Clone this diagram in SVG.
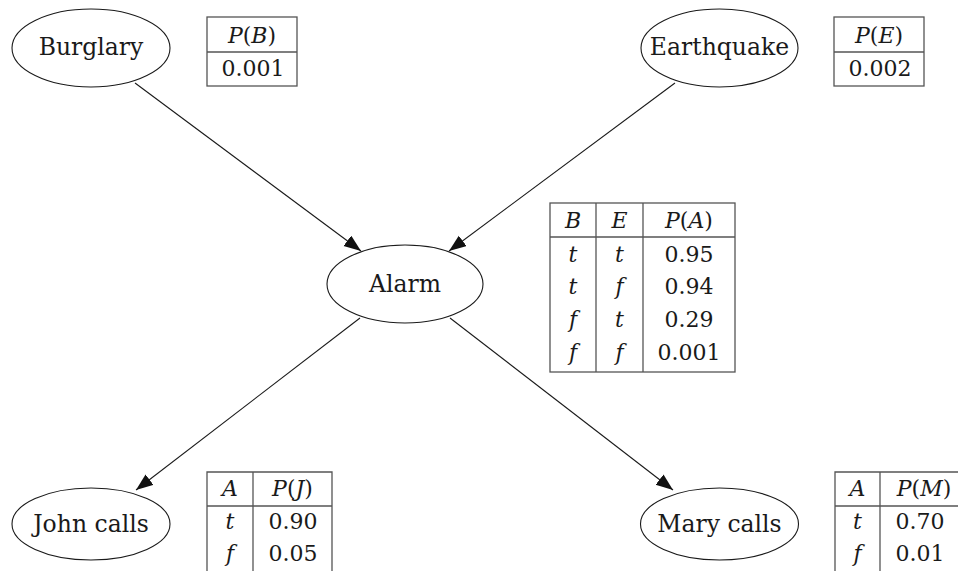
<svg xmlns="http://www.w3.org/2000/svg" width="958" height="571" viewBox="0 0 958 571">
<style>
.node ellipse{fill:#fff;stroke:#1a1a1a;stroke-width:1.1}
.lbl{font-family:"DejaVu Serif",serif;font-size:23.5px;fill:#1a1a1a;text-anchor:middle}
.tb{fill:none;stroke:#555;stroke-width:1.3}
.tl{stroke:#555;stroke-width:1.3}
.tt{font-family:"DejaVu Serif",serif;font-size:22px;fill:#1a1a1a;text-anchor:middle}
.it{font-style:italic}
.edge{stroke:#1a1a1a;stroke-width:1.1;fill:none;marker-end:url(#arr)}
</style>
<defs>
<marker id="arr" markerUnits="userSpaceOnUse" markerWidth="20" markerHeight="14" refX="17" refY="6.5" orient="auto">
<path d="M0,0 L17,6.5 L0,13 z" fill="#111"/>
</marker>
</defs>
<rect width="958" height="571" fill="#fff"/>
<g id="edges">
<line class="edge" x1="135" y1="83" x2="361" y2="251"/>
<line class="edge" x1="675" y1="83" x2="449" y2="251"/>
<line class="edge" x1="360" y1="318" x2="136" y2="490"/>
<line class="edge" x1="450" y1="318" x2="673" y2="490"/>
</g>
<g id="burglary" class="node"><ellipse cx="91" cy="48" rx="79" ry="39"/><text class="lbl" x="91" y="55">Burglary</text></g>
<g id="earthquake" class="node"><ellipse cx="719.5" cy="48" rx="78.5" ry="39"/><text class="lbl" x="719.5" y="55">Earthquake</text></g>
<g id="alarm" class="node"><ellipse cx="405" cy="284" rx="78" ry="39"/><text class="lbl" x="405" y="292">Alarm</text></g>
<g id="john" class="node"><ellipse cx="91" cy="524" rx="79" ry="36"/><text class="lbl" x="91" y="532">John calls</text></g>
<g id="mary" class="node"><ellipse cx="719.5" cy="524" rx="79" ry="36"/><text class="lbl" x="719.5" y="532">Mary calls</text></g>
<g id="cpt-b">
<rect class="tb" x="207" y="17" width="90" height="69"/><line class="tl" x1="207" y1="52" x2="297" y2="52"/>
<text class="tt" x="252" y="43"><tspan class="it">P</tspan>(<tspan class="it">B</tspan>)</text>
<text class="tt" x="253" y="76">0.001</text>
</g>
<g id="cpt-e">
<rect class="tb" x="834" y="17" width="90" height="69"/><line class="tl" x1="834" y1="52" x2="924" y2="52"/>
<text class="tt" x="879" y="43"><tspan class="it">P</tspan>(<tspan class="it">E</tspan>)</text>
<text class="tt" x="880" y="76">0.002</text>
</g>
<g id="cpt-a">
<rect class="tb" x="550" y="203" width="185" height="169"/>
<line class="tl" x1="550" y1="237" x2="735" y2="237"/>
<line class="tl" x1="596" y1="203" x2="596" y2="372"/>
<line class="tl" x1="643" y1="203" x2="643" y2="372"/>
<text class="tt it" x="573" y="228">B</text><text class="tt it" x="619.5" y="228">E</text>
<text class="tt" x="689" y="228"><tspan class="it">P</tspan>(<tspan class="it">A</tspan>)</text>
<text class="tt it" x="573" y="262">t</text><text class="tt it" x="619.5" y="262">t</text><text class="tt" x="689" y="262">0.95</text>
<text class="tt it" x="573" y="294">t</text><text class="tt it" x="619.5" y="294">f</text><text class="tt" x="689" y="294">0.94</text>
<text class="tt it" x="573" y="327">f</text><text class="tt it" x="619.5" y="327">t</text><text class="tt" x="689" y="327">0.29</text>
<text class="tt it" x="573" y="360">f</text><text class="tt it" x="619.5" y="360">f</text><text class="tt" x="689" y="360">0.001</text>
</g>
<g id="cpt-j">
<path class="tb" d="M207,580 V472 H332 V580"/>
<line class="tl" x1="207" y1="506" x2="332" y2="506"/>
<line class="tl" x1="253" y1="472" x2="253" y2="580"/>
<text class="tt it" x="230" y="496">A</text>
<text class="tt" x="292.5" y="496"><tspan class="it">P</tspan>(<tspan class="it">J</tspan>)</text>
<text class="tt it" x="230" y="529">t</text><text class="tt" x="293" y="529">0.90</text>
<text class="tt it" x="230" y="561">f</text><text class="tt" x="293" y="561">0.05</text>
</g>
<g id="cpt-m">
<path class="tb" d="M835,580 V472 H970"/>
<line class="tl" x1="835" y1="506" x2="970" y2="506"/>
<line class="tl" x1="880" y1="472" x2="880" y2="580"/>
<text class="tt it" x="857.5" y="496">A</text>
<text class="tt" x="924" y="496"><tspan class="it">P</tspan>(<tspan class="it">M</tspan>)</text>
<text class="tt it" x="857.5" y="529">t</text><text class="tt" x="920" y="529">0.70</text>
<text class="tt it" x="857.5" y="561">f</text><text class="tt" x="920" y="561">0.01</text>
</g>
</svg>
